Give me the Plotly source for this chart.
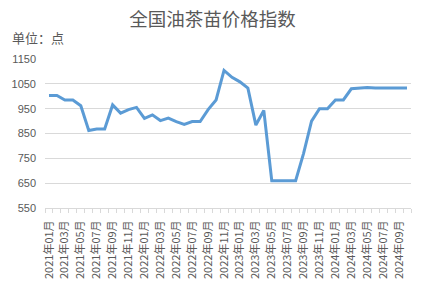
import plotly.graph_objects as go

months = [
    "2021年01月", "2021年02月", "2021年03月", "2021年04月", "2021年05月", "2021年06月",
    "2021年07月", "2021年08月", "2021年09月", "2021年10月", "2021年11月", "2021年12月",
    "2022年01月", "2022年02月", "2022年03月", "2022年04月", "2022年05月", "2022年06月",
    "2022年07月", "2022年08月", "2022年09月", "2022年10月", "2022年11月", "2022年12月",
    "2023年01月", "2023年02月", "2023年03月", "2023年04月", "2023年05月", "2023年06月",
    "2023年07月", "2023年08月", "2023年09月", "2023年10月", "2023年11月", "2023年12月",
    "2024年01月", "2024年02月", "2024年03月", "2024年04月", "2024年05月", "2024年06月",
    "2024年07月", "2024年08月", "2024年09月", "2024年10月",
]
index_values = [
    1003, 1003, 985, 985, 962, 862, 868, 868, 965, 932, 946, 955,
    911, 925, 902, 912, 898, 887, 898, 898, 946, 985, 1104, 1076,
    1058, 1033, 884, 943, 660, 660, 660, 660, 770, 900, 950, 950,
    985, 985, 1030, 1032, 1035, 1033, 1033, 1033, 1033, 1033,
]
y_ticks = [550, 650, 750, 850, 950, 1050, 1150]

title_text = "全国油茶苗价格指数"
unit_text = "单位：点"

W, H = 425, 291
L, R, T, B = 42, 14, 59, 78

xs = list(range(len(months)))
label_idx = xs[::2]

fig = go.Figure()
fig.add_trace(go.Scatter(
    x=xs, y=index_values, mode="lines",
    line=dict(color="#5B9BD5", width=3),
    hoverinfo="skip", showlegend=False,
))

fig.update_layout(
    width=W, height=H,
    margin=dict(l=L, r=R, t=T, b=B, pad=0),
    paper_bgcolor="white", plot_bgcolor="white",
    title=dict(
        text=title_text, x=0.5, xanchor="center",
        y=1 - 20 / H, yanchor="middle", yref="container",
        font=dict(family="Noto Sans CJK SC", size=18.5, color="#595959"),
    ),
    annotations=[dict(
        text=unit_text, xref="paper", yref="paper",
        x=(7 - L) / (W - L - R), y=(H - B - 36.5) / (H - B - T),
        xanchor="left", yanchor="middle", showarrow=False,
        font=dict(family="Noto Sans CJK SC", size=13, color="#595959"),
    )],
)

fig.update_xaxes(
    range=[-0.5, len(months) - 0.5],
    tickmode="array", tickvals=label_idx,
    ticktext=[months[i] for i in label_idx],
    tickangle=-90, ticks="", ticklabelstandoff=7,
    tickfont=dict(family="Noto Sans CJK SC", size=11, color="#595959"),
    showgrid=False, zeroline=False,
    showline=True, linecolor="#d9d9d9", linewidth=1,
    minor=dict(ticks="outside", tick0=-0.5, dtick=1, ticklen=4,
               tickcolor="#d9d9d9", tickwidth=1, showgrid=False),
)
fig.update_yaxes(
    range=[550, 1150], tickmode="array", tickvals=y_ticks,
    ticks="", ticklabelstandoff=8,
    tickfont=dict(family="Liberation Sans", size=11, color="#595959"),
    showgrid=True, gridcolor="#d9d9d9", gridwidth=1,
    zeroline=False, showline=False,
)

fig.write_html("out.html")
